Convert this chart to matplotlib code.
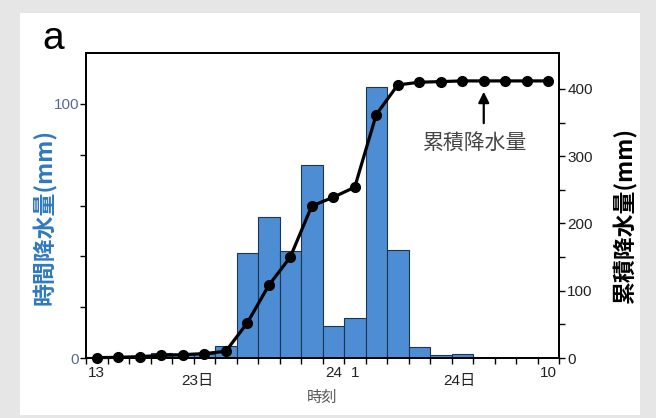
import matplotlib
matplotlib.use('Agg')
import matplotlib.pyplot as plt
from matplotlib.patches import Rectangle
import matplotlib.transforms as mtransforms
import numpy as np

plt.rcParams['font.family'] = ['Liberation Sans', 'Noto Sans CJK JP', 'DejaVu Sans']

# hourly precipitation (mm), 13時 of 23日 ... 10時 of 24日
hours = list(range(22))
hourly = [0.3, 0.3, 0.5, 1.8, 1.5, 1.5, 4.7, 41.4, 55.4, 42.0, 76.0, 12.6,
          15.6, 106.7, 42.5, 4.4, 1.2, 1.6, 0.0, 0.0, 0.0, 0.0]
# cumulative precipitation (mm)
cumulative = [0.5, 1.0, 2.0, 4.0, 5.0, 6.5, 10.0, 52.0, 108.0, 150.0, 226.0, 239.0,
              254.0, 362.0, 406.0, 410.0, 411.0, 412.0, 412.0, 412.0, 412.0, 412.0]

hour_label_pos = [0, 11, 12, 21]
hour_labels = ['13', '24', '1', '10']
date_label_pos = [4.7, 16.85]
date_labels = ['23日', '24日']

bar_color = '#4d8dd3'
left_label_color = '#2f79c0'
left_tick_color = '#5b6896'

fig = plt.figure(figsize=(6.56, 4.18), dpi=100)
fig.patch.set_facecolor('#e6e6e6')
fig.patches.append(Rectangle((20/656, 1-415/418), 620/656, 402/418,
                             transform=fig.transFigure, facecolor='white',
                             edgecolor='none', zorder=-1))

ax = fig.add_axes([86/656, 1-358/418, 473/656, 305/418])
ax.bar(hours, hourly, width=1.0, color=bar_color, edgecolor='#1e3550', linewidth=0.8)
ax.set_xlim(-0.5, 21.5)
ax.set_ylim(0, 120)

ax.set_yticks([0, 20, 40, 60, 80, 100])
ax.set_yticklabels(['0', '', '', '', '', '100'])
ax.tick_params(axis='y', direction='out', length=4, width=1, pad=1,
               labelsize=11, labelcolor=left_tick_color)
ax.set_ylabel('時間降水量(mm)', color=left_label_color, fontsize=16.5,
              fontweight='bold', family=['Noto Sans CJK JP', 'DejaVu Sans'])
ax.yaxis.set_label_coords(-0.0867, 0.462)
ax.yaxis.label.set_verticalalignment('center')

ax.set_xticks(np.arange(-0.5, 22, 1))
ax.set_xticklabels([])
ax.tick_params(axis='x', which='major', direction='out', length=4, width=1)
ax.set_xticks(hour_label_pos, minor=True)
ax.set_xticklabels(hour_labels, minor=True)
ax.tick_params(axis='x', which='minor', length=0, pad=6, labelsize=11, labelcolor='#222222')

trans = mtransforms.blended_transform_factory(ax.transData, ax.transAxes)
for xp, lab in zip(date_label_pos, date_labels):
    ax.text(xp, -0.076, lab, transform=trans, ha='center', va='center',
            fontsize=11, color='#222222', family=['Liberation Sans', 'Noto Sans CJK JP'])

ax.set_xlabel('時刻', fontsize=11, color='#555555',
              family=['Noto Sans CJK JP', 'DejaVu Sans'], labelpad=6.5)

for sp in ax.spines.values():
    sp.set_linewidth(1.3)

ax2 = ax.twinx()
ax2.plot(hours, cumulative, color='black', linewidth=2.3, marker='o',
         markersize=7, clip_on=False)
ax2.set_ylim(0, 453.5)
ax2.set_yticks(np.arange(0, 401, 50))
ax2.set_yticklabels(['0', '', '100', '', '200', '', '300', '', '400'])
ax2.tick_params(axis='y', direction='out', length=4, width=1, pad=2,
                labelsize=11, labelcolor='#222222')
ax2.set_ylabel('累積降水量(mm)', fontsize=16.5, fontweight='bold', color='black',
               family=['Noto Sans CJK JP', 'DejaVu Sans'], rotation=90)
ax2.yaxis.set_label_coords(1.1395, 0.466)
ax2.yaxis.label.set_verticalalignment('center')
for sp in ax2.spines.values():
    sp.set_linewidth(1.3)

ax2.annotate('', xy=(18, 400), xytext=(18, 345),
             arrowprops=dict(arrowstyle='-|>', color='black', lw=1.6, mutation_scale=16))
ax2.text(17.6, 320, '累積降水量', ha='center', va='center', fontsize=15,
         color='#444444', family=['Noto Sans CJK JP', 'DejaVu Sans'])

fig.text(42/656, 1-39/418, 'a', fontsize=28, ha='left', va='center', color='black')

plt.savefig('out.png', dpi=100)
plt.close()
